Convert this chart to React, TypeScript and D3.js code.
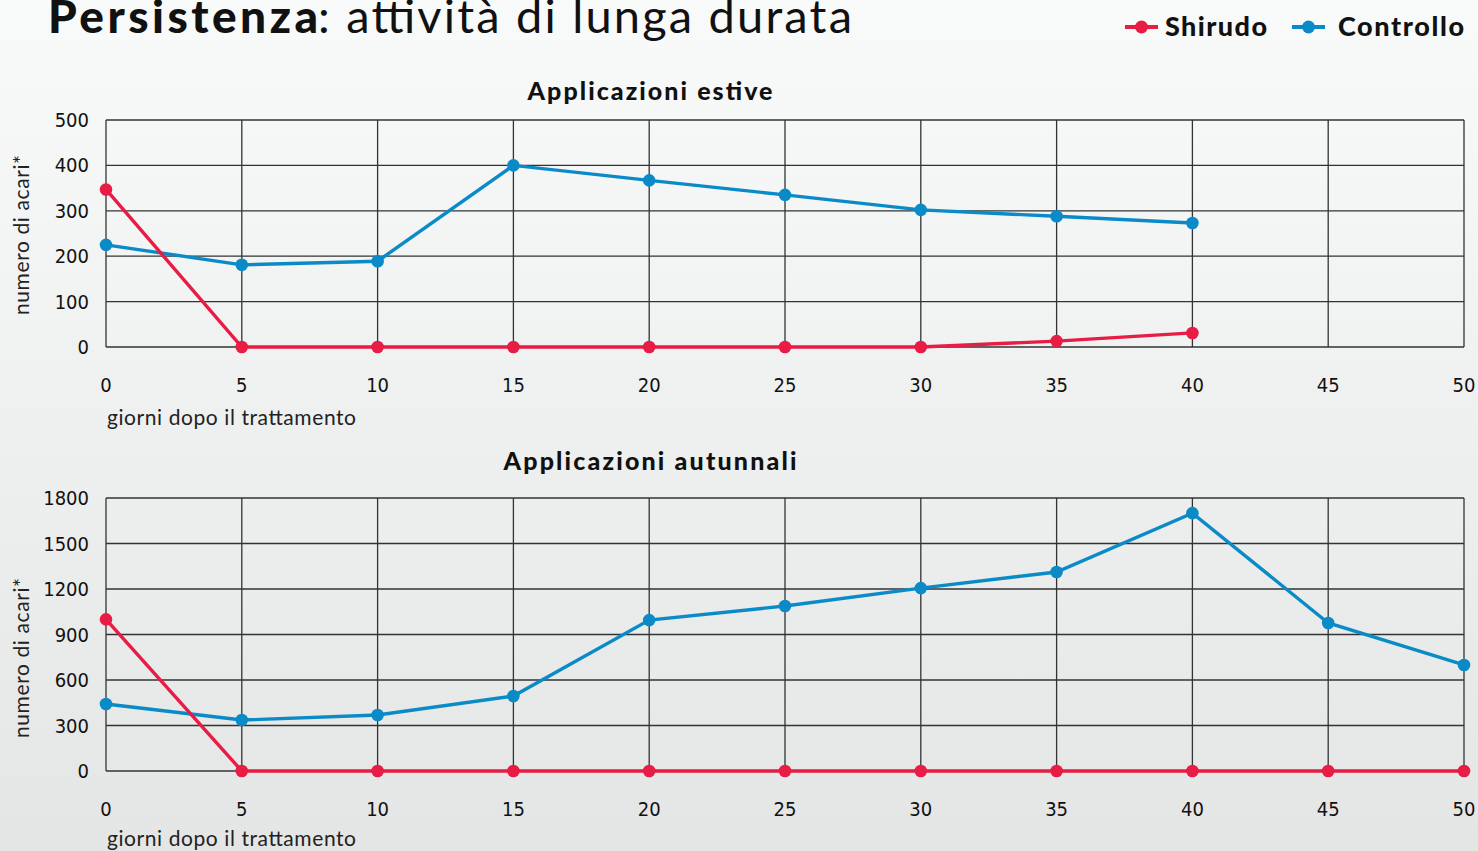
import React from 'react';
import * as d3 from 'd3';

// giorni dopo il trattamento
const days = [0, 5, 10, 15, 20, 25, 30, 35, 40, 45, 50];

// Applicazioni estive (rilievi fino al giorno 40)
const estiveDays = [0, 5, 10, 15, 20, 25, 30, 35, 40];
const estiveShirudo = [347, 0, 0, 0, 0, 0, 0, 13, 31];
const estiveControllo = [225, 181, 189, 400, 367, 335, 302, 288, 273];
const estiveTicks = [0, 100, 200, 300, 400, 500];

// Applicazioni autunnali
const autunnoShirudo = [1000, 0, 0, 0, 0, 0, 0, 0, 0, 0, 0];
const autunnoControllo = [442, 336, 369, 494, 995, 1088, 1206, 1312, 1700, 976, 699];
const autunnoTicks = [0, 300, 600, 900, 1200, 1500, 1800];

const RED = '#e81c44';
const BLUE = '#0a8bc8';
const GRID = '#333';
const tickFont = "'Liberation Sans Narrow', 'DejaVu Sans Condensed', 'Noto Sans', sans-serif";
const headFont = "Lato, 'Noto Sans', sans-serif";

type Series = { name: string; color: string; x: number[]; y: number[] };

const Panel = ({ title, titleW, titleY, top, bottom, ticks, series, labelY, axisMid }: {
  title: string; titleW: number; titleY: number; top: number; bottom: number; ticks: number[];
  series: Series[]; labelY: number; axisMid: number;
}) => {
  const x = d3.scaleLinear().domain([0, 50]).range([106, 1464]);
  const y = d3.scaleLinear().domain([0, d3.max(ticks)!]).range([bottom, top]);
  const line = d3.line<[number, number]>().x(d => x(d[0])).y(d => y(d[1]));
  return (
    <g>
      <text x={650} y={titleY} textAnchor="middle" fontFamily={headFont} fontWeight={900}
        fontSize={25} fill="#111" textLength={titleW} lengthAdjust="spacing">{title}</text>
      {ticks.map(t => (
        <g key={'h' + t}>
          <line x1={x(0)} x2={x(50)} y1={y(t)} y2={y(t)} stroke={GRID} strokeWidth={1.3} />
          <text x={89} y={y(t)} dy="0.35em" textAnchor="end" fontFamily={tickFont}
            fontSize={20} fill="#111">{t}</text>
        </g>
      ))}
      {days.map(d => (
        <g key={'v' + d}>
          <line x1={x(d)} x2={x(d)} y1={y(ticks[ticks.length - 1])} y2={y(0)} stroke={GRID} strokeWidth={1.3} />
          <text x={x(d)} y={bottom + 38} dy="0.35em" textAnchor="middle" fontFamily={tickFont}
            fontSize={20} fill="#111">{d}</text>
        </g>
      ))}
      <text x={107} y={labelY} fontFamily={headFont} fontSize={21} fill="#222"
        textLength={249} lengthAdjust="spacing">giorni dopo il trattamento</text>
      <text transform={`translate(29,${axisMid}) rotate(-90)`} textAnchor="middle"
        fontFamily={headFont} fontSize={21} fill="#222" textLength={160} lengthAdjust="spacing">numero di acari*</text>
      {series.map(s => {
        const pts = s.x.map((d, i) => [d, s.y[i]] as [number, number]);
        return (
          <g key={s.name}>
            <path d={line(pts) ?? ''} fill="none" stroke={s.color} strokeWidth={3.4} />
            {pts.map((p, i) => (
              <circle key={i} cx={x(p[0])} cy={y(p[1])} r={6.3} fill={s.color} />
            ))}
          </g>
        );
      })}
    </g>
  );
};

const Legend = () => {
  const items = [
    { name: 'Shirudo', color: RED, x: 1125, w: 102 },
    { name: 'Controllo', color: BLUE, x: 1292, w: 126 },
  ];
  return (
    <g>
      {items.map(it => (
        <g key={it.name}>
          <line x1={it.x} x2={it.x + 33} y1={27} y2={27} stroke={it.color} strokeWidth={4} />
          <circle cx={it.x + 16.5} cy={27} r={6.5} fill={it.color} />
          <text x={it.name === 'Shirudo' ? it.x + 40 : it.x + 46} y={36} fontFamily={headFont} fontWeight={900}
            fontSize={27} fill="#111" textLength={it.w} lengthAdjust="spacing">{it.name}</text>
        </g>
      ))}
    </g>
  );
};

export default function App() {
  return (
    <svg width={1478} height={851} style={{ position: 'absolute', left: 0, top: 0 }}>
      <defs>
        <linearGradient id="bg" x1="0" y1="0" x2="0" y2="1">
          <stop offset="0" stopColor="#f9fafa" />
          <stop offset="1" stopColor="#e4e5e5" />
        </linearGradient>
      </defs>
      <rect width={1478} height={851} fill="url(#bg)" />
      <text x={48} y={33} fontFamily={headFont} fontSize={46} fontWeight={900} fill="#111"
        textLength={270} lengthAdjust="spacing">Persistenza</text>
      <text x={318} y={33} fontFamily={headFont} fontSize={47} fontWeight={400} fill="#111"
        textLength={534} lengthAdjust="spacing">: attività di lunga durata</text>
      <Legend />
      <Panel title="Applicazioni estive" titleW={245} titleY={100} top={120} bottom={347}
        ticks={estiveTicks} labelY={425} axisMid={235}
        series={[
          { name: 'Controllo', color: BLUE, x: estiveDays, y: estiveControllo },
          { name: 'Shirudo', color: RED, x: estiveDays, y: estiveShirudo },
        ]} />
      <Panel title="Applicazioni autunnali" titleW={293} titleY={470} top={498} bottom={771}
        ticks={autunnoTicks} labelY={846} axisMid={658}
        series={[
          { name: 'Controllo', color: BLUE, x: days, y: autunnoControllo },
          { name: 'Shirudo', color: RED, x: days, y: autunnoShirudo },
        ]} />
    </svg>
  );
}
